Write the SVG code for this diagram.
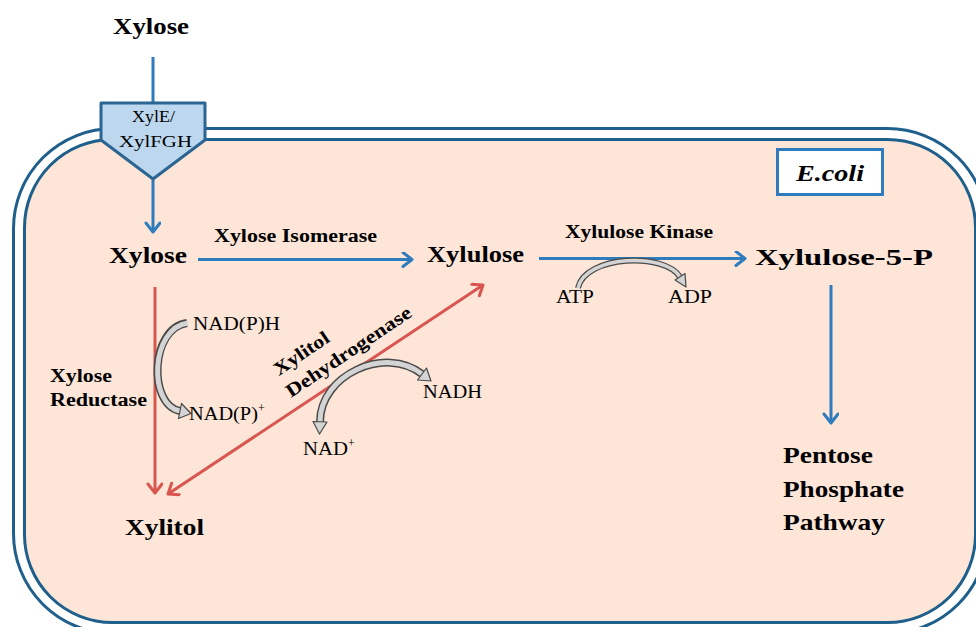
<svg xmlns="http://www.w3.org/2000/svg" width="976" height="627" viewBox="0 0 976 627">
<defs>
<style>
text{font-family:"Liberation Serif","Times New Roman",serif;fill:#000;}
.big{font-size:24px;font-weight:bold;}
.mid{font-size:19px;font-weight:bold;}
.sm{font-size:18px;}
.sup{font-size:12px;}
.blue{stroke:#2e7bbd;stroke-width:3;fill:none;}
.red{stroke:#d9554f;stroke-width:3;fill:none;}
.gout{stroke:#4a4a4a;fill:none;}
.gin{stroke:#d4d4d4;fill:none;}
.ghead{fill:#d4d4d4;stroke:#4a4a4a;stroke-width:1.2;stroke-linejoin:round;}
</style>
<marker id="ab" markerUnits="userSpaceOnUse" markerWidth="16" markerHeight="18" refX="11" refY="8" orient="auto-start-reverse" viewBox="0 0 16 18">
<path d="M2,1 L11,8 L2,15" fill="none" stroke="#2e7bbd" stroke-width="3" stroke-linecap="round" stroke-linejoin="round"/>
</marker>
<marker id="ar" markerUnits="userSpaceOnUse" markerWidth="16" markerHeight="18" refX="11" refY="8" orient="auto-start-reverse" viewBox="0 0 16 18">
<path d="M2,1 L11,8 L2,15" fill="none" stroke="#d9554f" stroke-width="3" stroke-linecap="round" stroke-linejoin="round"/>
</marker>
</defs>
<rect width="976" height="627" fill="#fff"/>
<g id="cell">
<rect x="13.5" y="128.5" width="974" height="505" rx="100" fill="#fff" stroke="#1f5f8c" stroke-width="3"/>
<rect x="24.5" y="139.5" width="951" height="483" rx="88" fill="#fde5d7" stroke="#1f5f8c" stroke-width="3"/>
</g>
<g id="connectors">
<line class="blue" x1="153" y1="57" x2="153" y2="103"/>
<line class="blue" x1="153" y1="180" x2="153" y2="232" marker-end="url(#ab)"/>
<line class="blue" x1="198" y1="259.5" x2="412" y2="259.5" marker-end="url(#ab)"/>
<line class="blue" x1="539" y1="258.5" x2="745" y2="258.5" marker-end="url(#ab)"/>
<line class="blue" x1="831" y1="285" x2="831" y2="423" marker-end="url(#ab)"/>
<line class="red" x1="155" y1="287" x2="155" y2="493" marker-end="url(#ar)"/>
<line class="red" x1="168" y1="494" x2="483" y2="285" marker-start="url(#ar)" marker-end="url(#ar)"/>
</g>
<g id="transporter">
<polygon points="101,103 205,103 205,140 153,179 101,140" fill="#bdd7ee" stroke="#2b6592" stroke-width="3" stroke-linejoin="round"/>
<text transform="translate(132,122) scale(1.14,1)" font-size="17" textLength="37.7" lengthAdjust="spacingAndGlyphs">XylE/</text>
<text transform="translate(119,147) scale(1.14,1)" font-size="17" textLength="64" lengthAdjust="spacingAndGlyphs">XylFGH</text>
</g>
<g id="xylose-out"><text class="big" transform="translate(113,34) scale(1.14,1)" textLength="66.7" lengthAdjust="spacingAndGlyphs">Xylose</text></g>
<g id="xylose-in"><text class="big" transform="translate(109,263) scale(1.14,1)" textLength="68.4" lengthAdjust="spacingAndGlyphs">Xylose</text></g>
<g id="xylulose"><text class="big" transform="translate(427,262) scale(1.14,1)" textLength="85.1" lengthAdjust="spacingAndGlyphs">Xylulose</text></g>
<g id="xylulose5p"><text class="big" transform="translate(755,265) scale(1.14,1)" textLength="156" lengthAdjust="spacingAndGlyphs">Xylulose-5-P</text></g>
<g id="xylitol"><text class="big" transform="translate(125,535) scale(1.14,1)" textLength="69.3" lengthAdjust="spacingAndGlyphs">Xylitol</text></g>
<g id="ppp">
<text class="big" transform="translate(783,463) scale(1.14,1)" textLength="78.9" lengthAdjust="spacingAndGlyphs">Pentose</text>
<text class="big" transform="translate(783,497) scale(1.14,1)" textLength="106.1" lengthAdjust="spacingAndGlyphs">Phosphate</text>
<text class="big" transform="translate(783,530) scale(1.14,1)" textLength="89.5" lengthAdjust="spacingAndGlyphs">Pathway</text>
</g>
<g id="ecoli">
<rect x="777.5" y="149.5" width="105" height="45" fill="#fff" stroke="#2e7bbd" stroke-width="3"/>
<text class="big" transform="translate(796,181) scale(1.14,1)" font-style="italic" textLength="59.6" lengthAdjust="spacingAndGlyphs">E.coli</text>
</g>
<g id="labels">
<text class="mid" transform="translate(214,242) scale(1.14,1)" textLength="143" lengthAdjust="spacingAndGlyphs">Xylose Isomerase</text>
<text class="mid" transform="translate(565,238) scale(1.14,1)" textLength="129.8" lengthAdjust="spacingAndGlyphs">Xylulose Kinase</text>
<text class="mid" transform="translate(50,382) scale(1.14,1)" textLength="54.4" lengthAdjust="spacingAndGlyphs">Xylose</text>
<text class="mid" transform="translate(50,406) scale(1.14,1)" textLength="85.1" lengthAdjust="spacingAndGlyphs">Reductase</text>
<g transform="translate(291,398) rotate(-34)">
<text class="mid" transform="translate(2,-25) scale(1.14,1)" textLength="55.3" lengthAdjust="spacingAndGlyphs">Xylitol</text>
<text class="mid" transform="scale(1.14,1)" textLength="129" lengthAdjust="spacingAndGlyphs">Dehydrogenase</text>
</g>
</g>
<g id="cofactor-xr">
<path class="gout" stroke-width="8" d="M187 323 C150 328 148 405 180 411"/>
<path class="gin" stroke-width="5" d="M188 323 C150 328 148 405 180 411"/>
<polygon class="ghead" points="178.5,418.5 191,413.5 181.5,403.5"/>
<text class="sm" transform="translate(193,330) scale(1.14,1)" textLength="76.3" lengthAdjust="spacingAndGlyphs">NAD(P)H</text>
<text class="sm" transform="translate(189,420) scale(1.14,1)" textLength="60.5" lengthAdjust="spacingAndGlyphs">NAD(P)</text>
<text class="sup" x="258" y="412">+</text>
</g>
<g id="cofactor-xdh">
<path class="gout" stroke-width="8" d="M320 422 C320 375 385 345 422 374"/>
<path class="gin" stroke-width="5" d="M320 422 C320 375 385 345 422 374"/>
<polygon class="ghead" points="327,422 319.5,434 313,421.5"/>
<polygon class="ghead" points="417.5,380 431,381 426.5,368"/>
<text class="sm" transform="translate(423,398) scale(1.14,1)" textLength="51.8" lengthAdjust="spacingAndGlyphs">NADH</text>
<text class="sm" transform="translate(303,455) scale(1.14,1)" textLength="39.5" lengthAdjust="spacingAndGlyphs">NAD</text>
<text class="sup" x="348" y="447">+</text>
</g>
<g id="cofactor-xk">
<path class="gout" stroke-width="6" d="M578 288 C585 255 665 252 680 277"/>
<path class="gin" stroke-width="3.5" d="M578 288 C585 255 665 252 680 277"/>
<polygon class="ghead" points="675,280 686,287 685,273.5"/>
<text class="sm" transform="translate(556,303) scale(1.14,1)" textLength="33.3" lengthAdjust="spacingAndGlyphs">ATP</text>
<text class="sm" transform="translate(668,303) scale(1.14,1)" textLength="38.6" lengthAdjust="spacingAndGlyphs">ADP</text>
</g>
</svg>
